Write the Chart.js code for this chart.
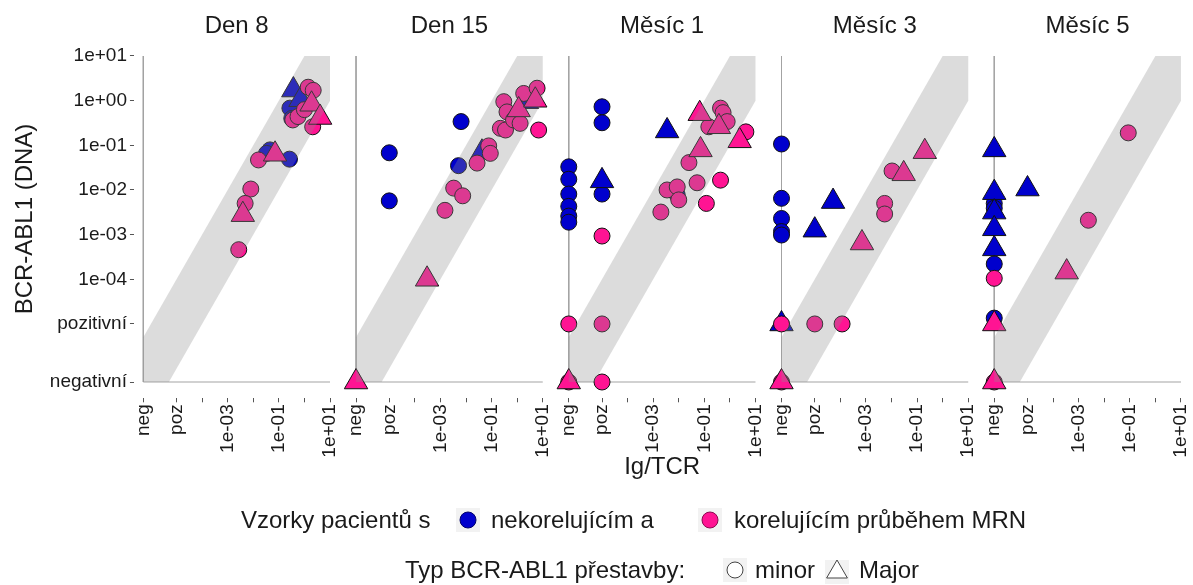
<!DOCTYPE html>
<html>
<head>
<meta charset="utf-8">
<script src="https://cdn.jsdelivr.net/npm/chart.js@4.4.1/dist/chart.umd.min.js"></script>
<style>
  html, body { margin: 0; padding: 0; background: #ffffff; }
  #wrap { width: 1193px; height: 585px; position: relative; }
</style>
</head>
<body>
<div id="wrap"><canvas id="chart" width="1193" height="585"></canvas></div>
<script>
// ---- facets and axis ticks -------------------------------------------------
const panelTitles = ['Den 8', 'Den 15', 'Měsíc 1', 'Měsíc 3', 'Měsíc 5'];
const xTickValues = ['neg', 'poz', 1e-4, 1e-3, 1e-2, 1e-1, 1, 10];
const xTickLabels = ['neg', 'poz', '', '1e-03', '', '1e-01', '', '1e+01'];
const yTickValues = ['neg', 'poz', 1e-4, 1e-3, 1e-2, 1e-1, 1, 10];
const yTickLabels = ['negativní', 'pozitivní', '1e-04', '1e-03', '1e-02', '1e-01', '1e+00', '1e+01'];

// ---- samples: [Ig/TCR, BCR-ABL1 (DNA)] ------------------------------------
// blue = non-correlating MRD course, pink = correlating; minor = circle, Major = triangle
const den8BlueMinor  = [[0.27, 0.68], [0.32, 0.40], [0.045, 0.079], [0.033, 0.066], [0.26, 0.049]];
const den8BlueMajor  = [[0.37, 1.73], [0.7, 1.05]];
const den8PinkMinor  = [[1.4, 2.0], [2.2, 1.7], [0.35, 0.37], [0.56, 0.44], [2.1, 0.26], [1.0, 0.63],
                        [0.016, 0.047], [0.008, 0.0105], [0.0048, 0.005], [0.0027, 0.00046]];
const den8PinkMajor  = [[1.9, 0.83], [4.1, 0.42], [0.071, 0.063], [0.0039, 0.0028]];

const den15BlueMinor = [[0.0064, 0.34], ['poz', 0.068], ['poz', 0.0057], [0.0051, 0.035]];
const den15BlueMajor = [[0.042, 0.07], [2.4, 0.95]];
const den15PinkMinor = [[0.027, 0.04], [0.077, 0.097], [0.089, 0.066], [0.0033, 0.011], [0.0074, 0.0074],
                        [0.0015, 0.0035], [0.3, 0.95], [0.4, 0.56], [0.22, 0.24], [0.35, 0.22],
                        [0.72, 0.37], [1.3, 0.31], [1.8, 1.45], [6.0, 1.9], [6.9, 0.22]];
const den15PinkMajor = [[0.0003, 0.0001], ['neg', 'neg'], [1.14, 0.62], [5.1, 1.02]];

const m1BlueMinor    = [['neg', 0.033], ['neg', 0.0174], ['neg', 0.0081], ['neg', 0.0043], ['neg', 0.0026],
                        ['neg', 0.0019], ['poz', 0.73], ['poz', 0.32], ['poz', 0.0081], [0.0087, 0.0078]];
const m1BlueMajor    = [['poz', 0.016], [0.0035, 0.21]];
const m1PinkMinor    = [['neg', 'poz'], ['neg', 'neg'], ['poz', 0.00093], ['poz', 'poz'], ['poz', 'neg'],
                        [0.43, 0.68], [0.54, 0.54], [0.78, 0.34], [0.15, 0.26], [4.2, 0.2],
                        [0.025, 0.041], [0.052, 0.0145], [0.43, 0.0166], [0.0035, 0.01], [0.0087, 0.0117],
                        [0.01, 0.006], [0.002, 0.0032], [0.12, 0.005]];
const m1PinkMajor    = [['neg', 'neg'], [0.066, 0.51], [0.37, 0.26], [2.4, 0.126], [0.071, 0.079]];

const m3BlueMinor    = [['neg', 0.107], ['neg', 0.0065], ['neg', 0.0023], ['neg', 0.00117], ['neg', 0.00098]];
const m3BlueMajor    = [['neg', 'poz'], [5.2e-5, 0.0055], ['poz', 0.00126]];
const m3PinkMinor    = [['neg', 'neg'], ['neg', 'poz'], ['poz', 'poz'], [0.000117, 'poz'],
                        [0.0054, 0.005], [0.0054, 0.0029], [0.0105, 0.0266]];
const m3PinkMajor    = [['neg', 'neg'], [0.0007, 0.00065], [0.03, 0.023], [0.2, 0.072]];

const m5BlueMinor    = [['neg', 0.005], ['neg', 0.0039], ['neg', 0.00022], ['neg', 1.35e-5]];
const m5BlueMajor    = [['neg', 0.079], ['neg', 0.0087], ['neg', 0.0032], ['neg', 0.00135], ['neg', 0.00048], ['poz', 0.0105]];
const m5PinkMinor    = [['neg', 0.000105], ['neg', 'neg'], [0.0024, 0.0021], [0.087, 0.19]];
const m5PinkMajor    = [['neg', 'poz'], ['neg', 'neg'], [0.00034, 0.000145]];

const panelSeries = [
  [den8BlueMinor, den8BlueMajor, den8PinkMinor, den8PinkMajor],
  [den15BlueMinor, den15BlueMajor, den15PinkMinor, den15PinkMajor],
  [m1BlueMinor, m1BlueMajor, m1PinkMinor, m1PinkMajor],
  [m3BlueMinor, m3BlueMajor, m3PinkMinor, m3PinkMajor],
  [m5BlueMinor, m5BlueMajor, m5PinkMinor, m5PinkMajor]
];

// ---- scale mapping: negative / positive-unquantifiable sit below 1e-04 ----
const LOG_NEG = -6.3, LOG_POZ = -5, LOG_TOP = 1;
const EXPAND = 0.05 * (LOG_TOP - LOG_NEG);
const LOG_MIN = LOG_NEG - EXPAND, LOG_MAX = LOG_TOP + EXPAND;
const GAP_DECADES = 0.2873;              // spacing between facets, in decades of the x axis
const toAxis = v => v === 'neg' ? Math.pow(10, LOG_NEG) : v === 'poz' ? Math.pow(10, LOG_POZ) : v;
const BAND = 1;                          // agreement band: |log10(BCR-ABL1) - log10(Ig/TCR)| <= 1

const BLUE = '#0000CD', PINK = '#FF1493';
const TXT = '#1a1a1a';
const FONT = '"Liberation Sans", Arial, sans-serif';

const pointStyles = ['circle', 'triangle', 'circle', 'triangle'];
const pointFills  = [BLUE, BLUE, PINK, PINK];
const pointRadii  = [8, 13.5, 8, 13.5];

const noPadding = () => ({ left: 0, top: 0, right: 0, bottom: 0 });

const datasets = [];
const scales = {};

panelSeries.forEach((series, i) => {
  const axisId = 'x' + i;
  // L-shaped reference line along the "neg" row and column
  datasets.push({
    type: 'line', xAxisID: axisId, yAxisID: 'y', order: 20,
    data: [[LOG_NEG, LOG_TOP], [LOG_NEG, LOG_NEG], [LOG_TOP, LOG_NEG]]
      .map(([a, b]) => ({ x: Math.pow(10, a), y: Math.pow(10, b) })),
    borderColor: '#a3a3a3', borderWidth: 1, pointRadius: 0, fill: false, tension: 0
  });
  series.forEach((pts, k) => {
    datasets.push({
      type: 'scatter', xAxisID: axisId, yAxisID: 'y', order: 10 - k,
      data: pts.map(([a, b]) => ({ x: toAxis(a), y: toAxis(b) })),
      pointStyle: pointStyles[k], pointRadius: pointRadii[k], pointHoverRadius: pointRadii[k],
      backgroundColor: pointFills[k], borderColor: '#111111', borderWidth: 1
    });
  });
  // translucent agreement band laid over the samples
  datasets.push({
    type: 'line', xAxisID: axisId, yAxisID: 'y', order: 0,
    data: [[LOG_NEG, LOG_NEG], [LOG_NEG + BAND, LOG_NEG], [LOG_TOP, LOG_TOP - BAND], [LOG_TOP, LOG_TOP],
           [LOG_TOP - BAND, LOG_TOP], [LOG_NEG, LOG_NEG + BAND]]
      .map(([a, b]) => ({ x: Math.pow(10, a), y: Math.pow(10, b) })),
    fill: 'shape', backgroundColor: 'rgba(142,142,142,0.31)',
    borderColor: 'rgba(0,0,0,0)', borderWidth: 0, pointRadius: 0, tension: 0
  });

  const lo = i === 0 ? LOG_MIN : LOG_MIN - GAP_DECADES;
  scales[axisId] = {
    type: 'logarithmic', position: 'bottom', stack: 'facets',
    stackWeight: LOG_MAX - lo, bounds: 'data',
    min: Math.pow(10, lo), max: Math.pow(10, LOG_MAX),
    afterBuildTicks: s => { s.ticks = xTickValues.map(v => ({ value: toAxis(v) })); },
    afterFit: s => { s.height = 60; s.paddingLeft = 0; s.paddingRight = 0; s.getPadding = noPadding; },
    ticks: {
      autoSkip: false, minRotation: 90, maxRotation: 90, padding: 2,
      color: TXT, font: { family: FONT, size: 19 },
      callback: (v, idx) => xTickLabels[idx]
    },
    grid: { drawOnChartArea: false, drawTicks: true, tickLength: 4, tickColor: '#555', color: '#555' },
    border: { display: false }
  };
});

scales.y = {
  type: 'logarithmic', position: 'left', bounds: 'data',
  min: Math.pow(10, LOG_MIN), max: Math.pow(10, LOG_MAX),
  afterBuildTicks: s => { s.ticks = yTickValues.map(v => ({ value: toAxis(v) })); },
  afterFit: s => { s.width = 133.96; s.paddingTop = 0; s.paddingBottom = 0; s.getPadding = noPadding; },
  ticks: {
    autoSkip: false, padding: 3, color: TXT, font: { family: FONT, size: 19 },
    callback: (v, idx) => yTickLabels[idx]
  },
  grid: { drawOnChartArea: false, drawTicks: true, tickLength: 4, tickColor: '#555', color: '#555' },
  border: { display: false },
  title: { display: true, text: 'BCR-ABL1 (DNA)', color: TXT, font: { family: FONT, size: 24 },
           padding: { top: 11, bottom: 0 } }
};

// facet strips, x title and the two-row legend
const decorations = {
  id: 'decorations',
  afterDraw(chart) {
    const ctx = chart.ctx;
    const area = chart.chartArea;
    ctx.save();
    ctx.fillStyle = TXT;
    ctx.textBaseline = 'alphabetic';
    ctx.font = '24px ' + FONT;
    ctx.textAlign = 'center';
    panelTitles.forEach((t, i) => {
      const s = chart.scales['x' + i];
      const left = s.getPixelForValue(Math.pow(10, LOG_MIN));
      ctx.fillText(t, (left + s.right) / 2, 33);
    });
    ctx.fillText('Ig/TCR', (area.left + area.right) / 2, 474);

    ctx.textAlign = 'left';
    const keyBox = (cx, cy) => { ctx.fillStyle = '#f2f2f2'; ctx.fillRect(cx - 12, cy - 12, 24, 24); };
    const key = (cx, cy, style, radius, fill, stroke) => {
      keyBox(cx, cy);
      ctx.fillStyle = fill; ctx.strokeStyle = stroke; ctx.lineWidth = 1;
      Chart.helpers.drawPoint(ctx, { pointStyle: style, radius: radius, borderWidth: 1, rotation: 0 }, cx, cy);
    };
    // row 1: sample colour
    const r1 = 528, c1 = r1 - 8;
    ctx.fillStyle = TXT; ctx.fillText('Vzorky pacientů s', 241, r1);
    key(468, c1, 'circle', 8, BLUE, '#00006a');
    ctx.fillStyle = TXT; ctx.fillText('nekorelujícím a', 491, r1);
    key(710, c1, 'circle', 8, PINK, '#8a0a50');
    ctx.fillStyle = TXT; ctx.fillText('korelujícím průběhem MRN', 734, r1);
    // row 2: rearrangement type
    const r2 = 578, c2 = r2 - 8;
    ctx.fillStyle = TXT; ctx.fillText('Typ BCR-ABL1 přestavby:', 405, r2);
    key(735, c2, 'circle', 8, '#ffffff', '#444');
    ctx.fillStyle = TXT; ctx.fillText('minor', 755, r2);
    key(837, c2 + 2, 'triangle', 12, '#ffffff', '#444');
    ctx.fillStyle = TXT; ctx.fillText('Major', 859, r2);
    ctx.restore();
  }
};

new Chart(document.getElementById('chart'), {
  type: 'scatter',
  data: { datasets },
  options: {
    responsive: false,
    animation: false,
    devicePixelRatio: 1,
    layout: { autoPadding: false, padding: { top: 39.7, right: 2.7, bottom: 126.7, left: 0 } },
    plugins: { legend: { display: false }, tooltip: { enabled: false } },
    scales
  },
  plugins: [decorations]
});
</script>
</body>
</html>
